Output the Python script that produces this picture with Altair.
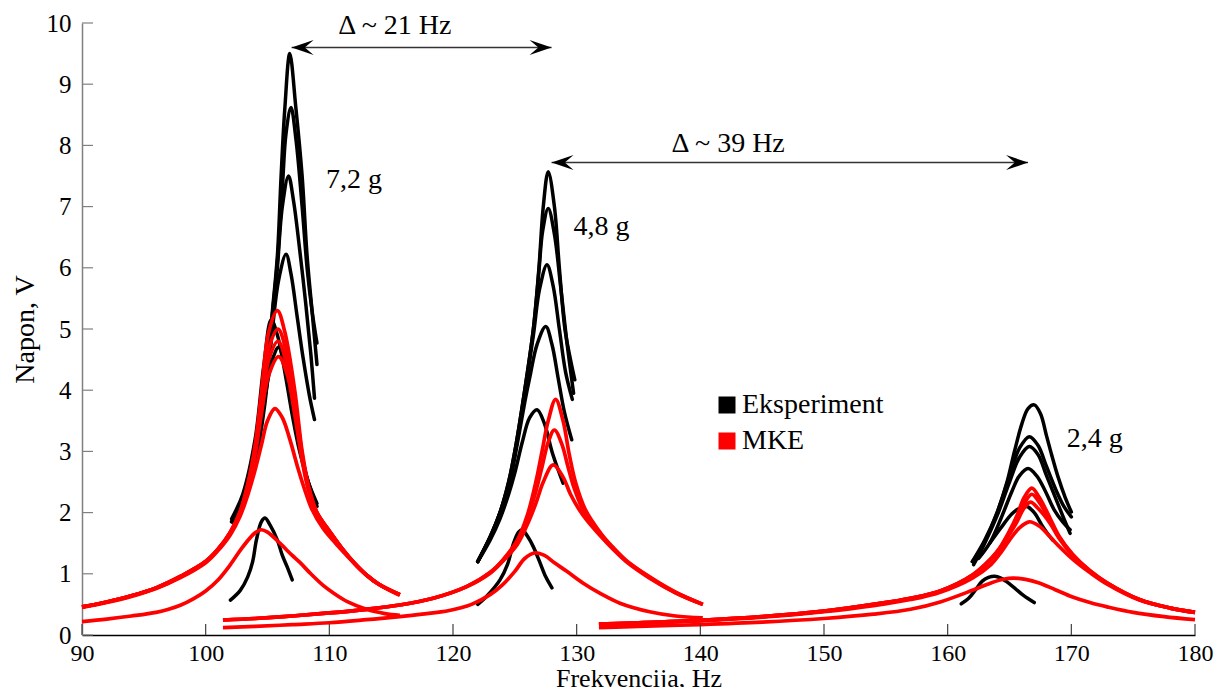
import altair as alt
import pandas as pd

FONT = "Liberation Serif"

# ---------------- axis ticks ----------------
x_ticks = [90, 100, 110, 120, 130, 140, 150, 160, 170, 180]
y_ticks = [0, 1, 2, 3, 4, 5, 6, 7, 8, 9, 10]

# ---------------- Eksperiment (black), group 7,2 g ----------------
b1a_f = [102.1, 102.8, 103.5, 104.1, 104.8, 105.4, 105.8, 106.1, 106.4, 106.8, 107.3, 107.8, 108.2, 108.6, 109.0]
b1a_v = [1.85, 2.1, 2.5, 3.0, 4.0, 5.3, 6.2, 7.5, 8.6, 9.5, 8.6, 7.5, 6.2, 5.3, 4.42]
b1b_f = [102.1, 102.8, 103.5, 104.1, 104.8, 105.4, 105.8, 106.2, 106.5, 106.9, 107.3, 107.8, 108.2, 108.6, 109.0]
b1b_v = [1.85, 2.1, 2.5, 3.0, 4.0, 5.25, 6.1, 7.3, 8.2, 8.62, 8.1, 7.0, 6.0, 5.3, 4.77]
b1c_f = [102.2, 102.8, 103.5, 104.1, 104.8, 105.4, 105.8, 106.2, 106.7, 107.1, 107.6, 108.1, 108.5, 108.8]
b1c_v = [1.85, 2.08, 2.45, 2.95, 3.9, 5.1, 6.0, 7.0, 7.5, 7.1, 6.3, 5.4, 4.6, 3.87]
b1d_f = [102.2, 102.8, 103.5, 104.1, 104.8, 105.4, 105.9, 106.5, 106.9, 107.4, 107.9, 108.4, 108.8]
b1d_v = [1.85, 2.05, 2.4, 2.9, 3.8, 5.0, 5.8, 6.22, 5.9, 5.2, 4.5, 3.9, 3.52]
b1e_f = [102.1, 103.0, 104.0, 104.7, 105.3, 105.8, 106.4, 107.0, 107.6, 108.3, 109.0]
b1e_v = [1.9, 2.3, 3.2, 4.4, 5.15, 4.9, 4.3, 3.6, 3.0, 2.5, 2.15]
b1f_f = [102.2, 103.0, 104.0, 104.8, 105.4, 105.9, 106.4, 107.0, 107.6, 108.3, 109.0]
b1f_v = [1.85, 2.2, 3.0, 3.9, 4.5, 4.7, 4.4, 3.8, 3.1, 2.5, 2.1]
b1g_f = [102.0, 102.8, 103.4, 103.8, 104.1, 104.5, 104.8, 105.2, 105.8, 106.2, 106.6, 107.0]
b1g_v = [0.57, 0.73, 0.95, 1.2, 1.55, 1.85, 1.91, 1.8, 1.55, 1.3, 1.11, 0.9]

# ---------------- Eksperiment (black), group 4,8 g ----------------
b2a_f = [122.0, 123.0, 123.8, 124.5, 125.0, 125.8, 126.5, 126.95, 127.3, 127.7, 128.2, 128.6, 129.05, 129.5, 129.85]
b2a_v = [1.2, 1.6, 2.0, 2.5, 3.0, 4.0, 5.0, 6.0, 7.0, 7.57, 7.0, 6.0, 5.0, 4.5, 4.17]
b2b_f = [122.0, 123.0, 123.8, 124.5, 125.0, 125.8, 126.5, 126.95, 127.25, 127.7, 128.2, 128.7, 129.2, 129.75]
b2b_v = [1.2, 1.6, 2.0, 2.5, 3.0, 4.0, 5.0, 5.95, 6.6, 6.97, 6.55, 5.7, 4.8, 3.95]
b2c_f = [122.0, 123.0, 123.8, 124.5, 125.0, 125.8, 126.5, 127.0, 127.6, 128.1, 128.6, 129.1, 129.65]
b2c_v = [1.2, 1.6, 2.0, 2.45, 2.95, 3.95, 4.9, 5.65, 6.05, 5.7, 5.0, 4.3, 3.85]
b2d_f = [122.0, 123.0, 123.8, 124.5, 125.0, 125.8, 126.2, 126.8, 127.5, 128.0, 128.5, 129.0, 129.6]
b2d_v = [1.2, 1.58, 1.95, 2.4, 2.9, 3.8, 4.2, 4.75, 5.04, 4.75, 4.2, 3.65, 3.19]
b2e_f = [122.0, 123.0, 123.8, 124.5, 125.0, 125.6, 126.2, 126.8, 127.4, 128.0, 128.5, 128.9]
b2e_v = [1.2, 1.55, 1.9, 2.3, 2.65, 3.15, 3.55, 3.68, 3.45, 3.0, 2.7, 2.48]
b2f_f = [122.0, 122.8, 123.8, 124.4, 124.9, 125.3, 125.6, 126.0, 126.5, 127.0, 127.5, 128.0]
b2f_v = [0.5, 0.65, 0.9, 1.15, 1.5, 1.68, 1.72, 1.62, 1.44, 1.2, 0.95, 0.77]

# ---------------- Eksperiment (black), group 2,4 g ----------------
b3a_f = [162.0, 162.8, 163.5, 164.0, 164.8, 165.4, 166.0, 166.5, 167.0, 167.5, 168.0, 168.4, 168.9, 169.5, 170.0]
b3a_v = [1.2, 1.45, 1.75, 2.0, 2.5, 3.0, 3.45, 3.7, 3.76, 3.62, 3.25, 2.95, 2.6, 2.25, 2.01]
b3b_f = [162.0, 163.0, 164.0, 165.0, 165.8, 166.6, 167.3, 168.0, 168.8, 169.4, 170.0]
b3b_v = [1.2, 1.55, 2.0, 2.6, 3.05, 3.24, 3.1, 2.75, 2.35, 2.1, 1.93]
b3c_f = [162.1, 163.0, 164.0, 165.0, 165.8, 166.6, 167.3, 168.0, 168.8, 169.4, 169.9]
b3c_v = [1.15, 1.5, 1.95, 2.5, 2.9, 3.08, 2.95, 2.6, 2.2, 1.9, 1.66]
b3d_f = [162.5, 163.4, 164.3, 165.2, 165.8, 166.5, 167.2, 167.9, 168.6, 169.3, 169.9]
b3d_v = [1.25, 1.5, 1.9, 2.35, 2.6, 2.72, 2.6, 2.35, 2.05, 1.85, 1.72]
b3e_f = [163.4, 164.3, 165.2, 165.8, 166.4, 167.0, 167.6, 168.0, 168.5]
b3e_v = [1.5, 1.75, 1.98, 2.07, 2.1, 2.0, 1.8, 1.68, 1.55]
b3f_f = [161.1, 161.7, 162.3, 162.8, 163.3, 163.8, 164.3, 164.7, 165.4, 166.1, 167.0]
b3f_v = [0.51, 0.6, 0.75, 0.88, 0.94, 0.96, 0.93, 0.88, 0.77, 0.65, 0.53]

# ---------------- MKE (red), group 7,2 g ----------------
r1a_f = [90, 92, 94, 96, 98, 100, 101, 102, 102.8, 103.5, 104.0, 104.5, 105.1, 105.8, 106.4, 107.2, 107.8, 108.3, 109, 110, 111, 112, 113, 114, 115.7]
r1a_v = [0.46, 0.54, 0.64, 0.77, 0.96, 1.2, 1.4, 1.68, 2.02, 2.55, 3.1, 3.95, 4.95, 5.3, 4.95, 4.0, 3.0, 2.45, 2.0, 1.7, 1.42, 1.18, 0.98, 0.83, 0.66]
r1b_f = [90, 92, 94, 96, 98, 100, 101, 102, 102.8, 103.5, 104.0, 104.5, 105.1, 105.85, 106.5, 107.2, 107.8, 108.3, 109, 110, 111, 112, 113, 114, 115.7]
r1b_v = [0.46, 0.54, 0.64, 0.77, 0.96, 1.2, 1.4, 1.68, 2.02, 2.53, 3.05, 3.85, 4.68, 5.0, 4.65, 3.85, 2.95, 2.42, 2.0, 1.7, 1.42, 1.18, 0.98, 0.83, 0.66]
r1c_f = [90, 92, 94, 96, 98, 100, 101, 102, 102.8, 103.5, 104.0, 104.5, 105.1, 105.85, 106.5, 107.2, 107.8, 108.3, 109, 110, 111, 112, 113, 114, 115.7]
r1c_v = [0.46, 0.54, 0.64, 0.77, 0.96, 1.2, 1.4, 1.68, 2.01, 2.5, 3.0, 3.75, 4.5, 4.8, 4.47, 3.75, 2.9, 2.4, 1.99, 1.7, 1.42, 1.18, 0.98, 0.83, 0.66]
r1d_f = [90, 92, 94, 96, 98, 100, 101, 102, 102.8, 103.5, 104.0, 104.5, 105.1, 105.9, 106.6, 107.2, 107.8, 108.3, 109, 110, 111, 112, 113, 114, 115.7]
r1d_v = [0.46, 0.54, 0.64, 0.77, 0.96, 1.2, 1.4, 1.67, 2.0, 2.48, 2.95, 3.6, 4.25, 4.55, 4.25, 3.6, 2.85, 2.38, 1.98, 1.69, 1.42, 1.18, 0.98, 0.83, 0.66]
r1e_f = [90, 92, 94, 96, 98, 100, 101, 102, 102.8, 103.5, 104.0, 104.5, 105.0, 105.6, 106.2, 106.8, 107.5, 108.0, 108.6, 109.5, 110.5, 111.5, 112.5, 113.5, 114.5, 115.7]
r1e_v = [0.45, 0.53, 0.63, 0.76, 0.94, 1.18, 1.38, 1.64, 1.95, 2.35, 2.7, 3.1, 3.5, 3.7, 3.55, 3.2, 2.7, 2.38, 2.05, 1.74, 1.5, 1.28, 1.07, 0.9, 0.77, 0.65]
r1f_f = [90, 92, 94, 96, 97, 98, 99, 100, 101, 102, 103, 104, 104.5, 105, 106, 107, 107.6, 108.5, 109.5, 110.3, 111.5, 113, 114.5, 115.7]
r1f_v = [0.22, 0.26, 0.31, 0.37, 0.42, 0.49, 0.59, 0.72, 0.9, 1.15, 1.44, 1.67, 1.72, 1.68, 1.5, 1.3, 1.19, 1.0, 0.81, 0.69, 0.54, 0.42, 0.35, 0.32]

# ---------------- MKE (red), group 4,8 g ----------------
r2a_f = [101.4, 104, 107, 110, 113, 115.7, 118.4, 121.1, 123.0, 124.0, 125.2, 126.0, 126.7, 127.2, 127.7, 128.3, 128.9, 129.4, 129.9, 130.7, 132.0, 132.9, 134.0, 135.9, 138.0, 140.2]
r2a_v = [0.245, 0.27, 0.31, 0.36, 0.42, 0.49, 0.6, 0.79, 1.02, 1.22, 1.55, 1.95, 2.5, 3.0, 3.5, 3.85, 3.5, 2.95, 2.5, 2.05, 1.65, 1.44, 1.22, 0.95, 0.7, 0.5]
r2b_f = [101.4, 104, 107, 110, 113, 115.7, 118.4, 121.1, 123.0, 124.0, 125.2, 126.0, 126.7, 127.2, 127.7, 128.2, 128.8, 129.3, 129.8, 130.7, 132.0, 132.9, 134.0, 135.9, 138.0, 140.2]
r2b_v = [0.245, 0.27, 0.31, 0.36, 0.42, 0.49, 0.6, 0.79, 1.02, 1.21, 1.52, 1.9, 2.35, 2.75, 3.15, 3.35, 3.12, 2.75, 2.4, 1.97, 1.63, 1.43, 1.21, 0.94, 0.69, 0.5]
r2c_f = [101.4, 104, 107, 110, 113, 115.7, 118.4, 121.1, 123.0, 124.0, 125.2, 126.0, 126.7, 127.3, 128.1, 128.9, 129.5, 130.2, 130.8, 132.0, 132.9, 134.0, 135.9, 138.0, 140.2]
r2c_v = [0.245, 0.27, 0.31, 0.36, 0.42, 0.49, 0.6, 0.79, 1.01, 1.2, 1.48, 1.8, 2.15, 2.5, 2.78, 2.58, 2.3, 2.05, 1.88, 1.6, 1.41, 1.2, 0.93, 0.69, 0.5]
r2d_f = [101.4, 104, 107, 110, 113, 115.7, 117.5, 119.7, 121.5, 123.0, 124.0, 125.0, 125.8, 126.6, 127.4, 128.2, 129.2, 130.5, 131.9, 133.5, 135.9, 138.0, 140.2]
r2d_v = [0.12, 0.14, 0.17, 0.2, 0.25, 0.3, 0.34, 0.4, 0.5, 0.66, 0.82, 1.04, 1.25, 1.34, 1.3, 1.18, 1.04, 0.85, 0.68, 0.52, 0.38, 0.31, 0.28]

# ---------------- MKE (red), group 2,4 g ----------------
r3a_f = [131.8, 135, 140, 145, 150, 154, 157, 159.4, 162, 163.5, 164.2, 165.0, 165.6, 166.2, 166.8, 167.4, 168.3, 169.0, 170.1, 171.5, 172.9, 175.5, 178, 180]
r3a_v = [0.18, 0.2, 0.24, 0.3, 0.39, 0.5, 0.6, 0.72, 0.98, 1.25, 1.42, 1.7, 1.95, 2.25, 2.4, 2.25, 1.9, 1.62, 1.32, 1.05, 0.85, 0.58, 0.44, 0.37]
r3b_f = [131.8, 135, 140, 145, 150, 154, 157, 159.4, 162, 163.5, 164.2, 165.0, 165.6, 166.2, 166.8, 167.4, 168.3, 169.0, 170.1, 171.5, 172.9, 175.5, 178, 180]
r3b_v = [0.18, 0.2, 0.24, 0.3, 0.39, 0.5, 0.6, 0.72, 0.98, 1.24, 1.41, 1.68, 1.9, 2.15, 2.3, 2.17, 1.86, 1.6, 1.31, 1.05, 0.85, 0.58, 0.44, 0.37]
r3c_f = [131.8, 135, 140, 145, 150, 154, 157, 159.4, 162, 163.5, 164.2, 165.0, 165.6, 166.1, 166.7, 167.3, 168.3, 169.0, 170.1, 171.5, 172.9, 175.5, 178, 180]
r3c_v = [0.18, 0.2, 0.24, 0.3, 0.39, 0.5, 0.6, 0.72, 0.97, 1.23, 1.4, 1.65, 1.85, 2.05, 2.17, 2.07, 1.82, 1.58, 1.3, 1.04, 0.85, 0.58, 0.44, 0.37]
r3d_f = [131.8, 135, 140, 145, 150, 154, 157, 159.4, 162, 163.5, 164.2, 165.0, 165.8, 166.6, 167.4, 168.3, 169.0, 170.1, 171.5, 172.9, 175.5, 178, 180]
r3d_v = [0.17, 0.19, 0.23, 0.29, 0.38, 0.48, 0.58, 0.7, 0.93, 1.15, 1.32, 1.55, 1.75, 1.85, 1.78, 1.6, 1.45, 1.24, 1.02, 0.83, 0.57, 0.44, 0.37]
r3e_f = [131.8, 135, 140, 145, 150, 154, 157, 159.4, 162, 163.5, 164.5, 165.3, 166.3, 167.4, 168.7, 170.1, 171.5, 172.9, 175, 177.5, 180]
r3e_v = [0.12, 0.14, 0.17, 0.21, 0.27, 0.34, 0.42, 0.54, 0.73, 0.85, 0.91, 0.93, 0.91, 0.85, 0.74, 0.62, 0.53, 0.46, 0.37, 0.3, 0.25]

# ---------------- annotations ----------------
ann_text = ["\u0394 ~ 21 Hz", "\u0394 ~ 39 Hz", "7,2 g", "4,8 g", "2,4 g"]
ann_f = [115.3, 142.25, 112.0, 132.0, 171.9]
ann_v = [9.82, 7.9, 7.3, 6.54, 3.08]

arrow_f1 = [106.95, 127.97]
arrow_f2 = [127.97, 166.5]
arrow_v = [9.6, 7.72]

exp_curves = [
    ("b1a", b1a_f, b1a_v), ("b1b", b1b_f, b1b_v), ("b1c", b1c_f, b1c_v), ("b1d", b1d_f, b1d_v),
    ("b1e", b1e_f, b1e_v), ("b1f", b1f_f, b1f_v), ("b1g", b1g_f, b1g_v),
    ("b2a", b2a_f, b2a_v), ("b2b", b2b_f, b2b_v), ("b2c", b2c_f, b2c_v), ("b2d", b2d_f, b2d_v),
    ("b2e", b2e_f, b2e_v), ("b2f", b2f_f, b2f_v),
    ("b3a", b3a_f, b3a_v), ("b3b", b3b_f, b3b_v), ("b3c", b3c_f, b3c_v), ("b3d", b3d_f, b3d_v),
    ("b3e", b3e_f, b3e_v), ("b3f", b3f_f, b3f_v),
]
mke_curves = [
    ("r1a", r1a_f, r1a_v), ("r1b", r1b_f, r1b_v), ("r1c", r1c_f, r1c_v), ("r1d", r1d_f, r1d_v),
    ("r1e", r1e_f, r1e_v), ("r1f", r1f_f, r1f_v),
    ("r2a", r2a_f, r2a_v), ("r2b", r2b_f, r2b_v), ("r2c", r2c_f, r2c_v), ("r2d", r2d_f, r2d_v),
    ("r3a", r3a_f, r3a_v), ("r3b", r3b_f, r3b_v), ("r3c", r3c_f, r3c_v), ("r3d", r3d_f, r3d_v),
    ("r3e", r3e_f, r3e_v),
]


def build(curves, series):
    rows = []
    for name, fs, vs in curves:
        for i, (f, v) in enumerate(zip(fs, vs)):
            rows.append({"curve": name, "series": series, "f": f, "v": v, "i": i})
    return pd.DataFrame(rows)


df_exp = build(exp_curves, "Eksperiment")
df_mke = build(mke_curves, "MKE")
df_ann = pd.DataFrame({"f": ann_f, "v": ann_v, "label": ann_text})
df_arrow = pd.DataFrame({"f": arrow_f1, "f2": arrow_f2, "v": arrow_v})
df_xt = pd.DataFrame({"f": x_ticks})
df_yt = pd.DataFrame({"v": y_ticks})

xscale = alt.Scale(domain=[90, 180], nice=False, zero=False)
yscale = alt.Scale(domain=[0, 10], nice=False)
cscale = alt.Scale(domain=["Eksperiment", "MKE"], range=["#000000", "#ff0000"])

x_axis = alt.Axis(
    title="Frekvencija, Hz", values=x_ticks, format="d", grid=False, ticks=False,
    domainColor="#000000", domainWidth=1.5, labelFont=FONT, labelFontSize=24,
    labelColor="#000000", labelPadding=6, labelFlush=False,
    titleFont=FONT, titleFontSize=26, titleFontWeight="normal", titleColor="#000000",
    titleBaseline="alphabetic", titleY=51,
)
y_axis = alt.Axis(
    title="Napon, V", values=y_ticks, format="d", grid=False, ticks=False,
    domainColor="#808080", domainWidth=1.5, labelFont=FONT, labelFontSize=25,
    labelColor="#000000", labelPadding=11, labelFlush=False,
    titleFont=FONT, titleFontSize=28, titleFontWeight="normal", titleColor="#000000",
    titleBaseline="alphabetic", titleAngle=-90, titleX=-49, titleY=306, titleAlign="center",
)

legend = alt.Legend(
    title=None, orient="none", legendX=631, legendY=368, padding=0, offset=0,
    symbolType="square", symbolSize=64, symbolStrokeWidth=9, symbolOpacity=1,
    labelFont=FONT, labelFontSize=28, labelColor="#000000", labelOffset=1, rowPadding=-14,
)


def X(field="f"):
    return alt.X(f"{field}:Q", scale=xscale, axis=x_axis)


def Y(field="v"):
    return alt.Y(f"{field}:Q", scale=yscale, axis=y_axis)


exp_layer = alt.Chart(df_exp).mark_line(
    interpolate="catmull-rom", strokeWidth=3.5, strokeCap="round", strokeJoin="round"
).encode(
    x=X(), y=Y(),
    color=alt.Color("series:N", scale=cscale, legend=legend),
    detail="curve:N",
    order="i:Q",
)

mke_layer = alt.Chart(df_mke).mark_line(
    interpolate="catmull-rom", strokeWidth=3.7, strokeJoin="round"
).encode(
    x=X(), y=Y(),
    color=alt.Color("series:N", scale=cscale, legend=legend),
    detail="curve:N",
    order="i:Q",
)

xtick_layer = alt.Chart(df_xt).mark_rule(color="#404040", strokeWidth=1.2).encode(
    x=X(), y=alt.value(612), y2=alt.value(601),
)
ytick_layer = alt.Chart(df_yt).mark_rule(color="#808080", strokeWidth=1.2).encode(
    y=Y(), x=alt.value(0), x2=alt.value(11),
)

arrow_line = alt.Chart(df_arrow).mark_rule(color="#333333", strokeWidth=1.5).encode(
    x=X(), x2="f2:Q", y=Y(),
)
head_left = alt.Chart(df_arrow).mark_point(
    shape="M0,0L2,-0.68L1.2,0L2,0.68Z", filled=True, size=484, color="#000000", opacity=1
).encode(x=X(), y=Y())
head_right = alt.Chart(df_arrow).mark_point(
    shape="M0,0L-2,-0.68L-1.2,0L-2,0.68Z", filled=True, size=484, color="#000000", opacity=1
).encode(x=X("f2"), y=Y())

text_layer = alt.Chart(df_ann).mark_text(
    font=FONT, fontSize=28, color="#000000", align="center", baseline="alphabetic"
).encode(x=X(), y=Y(), text="label:N")

chart = alt.layer(
    exp_layer, mke_layer, xtick_layer, ytick_layer, arrow_line, head_left, head_right, text_layer
).properties(
    width=1113, height=612,
    padding={"left": 74, "top": 15, "right": 20, "bottom": 52},
    autosize=alt.AutoSizeParams(type="none"),
    background="white",
).configure_view(strokeWidth=0)

chart.save("out.html", embed_options={"renderer": "svg", "actions": False})
